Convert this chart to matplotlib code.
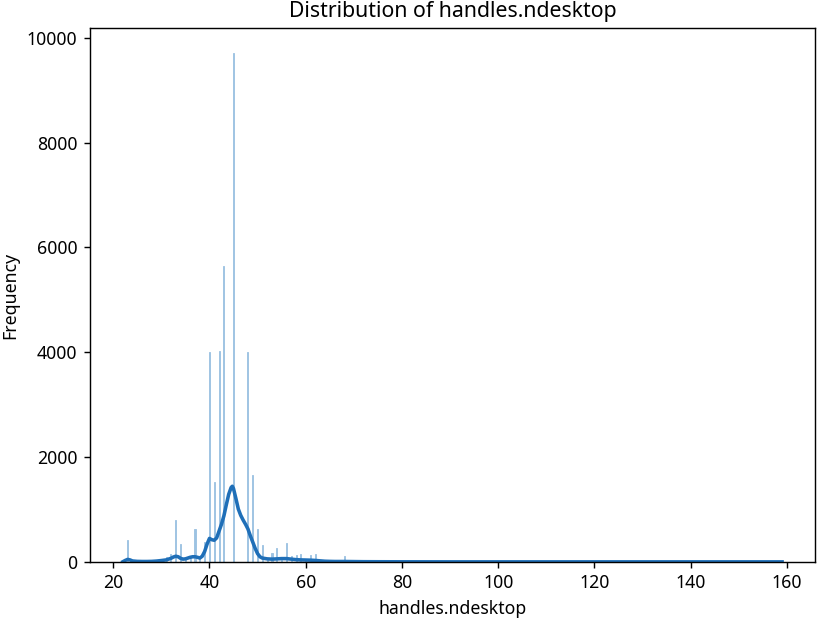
import numpy as np
import matplotlib
matplotlib.use("Agg")
import matplotlib.pyplot as plt

plt.rcParams['font.family'] = ['Noto Sans', 'DejaVu Sans']

# Histogram: distinct handle counts and their frequencies
values = [22, 23, 24, 28, 29, 30, 31, 32, 33, 34, 35, 36, 37, 38, 39, 40, 41, 42, 43, 45,
          48, 49, 50, 51, 52, 53, 54, 55, 56, 57, 58, 59, 60, 61, 62, 63, 64, 65, 66,
          68, 69, 70, 72, 75, 80, 90, 100, 120, 140, 159]
counts = [10, 420, 40, 15, 30, 60, 90, 160, 810, 345, 70, 80, 625, 50, 380, 4000, 1530, 4030, 5640, 9700,
          4000, 1650, 630, 320, 40, 170, 260, 40, 370, 120, 140, 160, 30, 130, 150, 20, 15, 10, 10,
          110, 20, 40, 10, 5, 4, 3, 3, 2, 2, 2]

# KDE curve
kde_x = [22, 22.5, 23, 23.5, 24, 25, 26, 27, 28, 29, 30, 31, 32, 32.5, 33, 33.5, 34, 34.5, 35,
         35.5, 36, 36.5, 37, 37.5, 38, 38.5, 39, 39.5, 40, 40.5, 41, 41.5, 42, 42.5, 43, 43.5,
         44, 44.5, 44.75, 45, 45.5, 46, 46.5, 47, 47.5, 48, 48.5, 49, 49.5, 50, 50.5, 51, 52,
         53, 54, 55, 56, 57, 58, 59, 60, 61, 62, 63, 64, 65, 66, 68, 70, 72, 75, 80, 90, 100,
         120, 140, 159]
kde_y = [5, 30, 50, 40, 20, 12, 10, 10, 12, 18, 28, 40, 70, 95, 110, 100, 70, 55, 60,
         75, 90, 100, 100, 90, 75, 110, 200, 340, 450, 425, 415, 460, 590, 720, 880, 1090,
         1290, 1420, 1445, 1400, 1210, 1010, 890, 800, 720, 630, 500, 380, 260, 160, 100, 75, 60,
         55, 60, 65, 65, 55, 45, 40, 38, 35, 30, 22, 15, 12, 10, 10, 8, 6, 5, 4, 3, 3,
         3, 3, 3]

title = "Distribution of handles.ndesktop"
xlabel = "handles.ndesktop"
ylabel = "Frequency"

dpi = 127.66
fig = plt.figure(figsize=(817 / dpi, 618 / dpi), dpi=dpi)
ax = fig.add_axes([0.110, 0.0906, 0.8876, 0.8641])

ax.bar(values, counts, width=0.22, color="#9cc2e2",
       edgecolor="#9cc2e2", linewidth=0.5)
ax.plot(kde_x, kde_y, color="#1f6fb8", linewidth=2.0)

ax.set_xlim(15.15, 165.85)
ax.set_ylim(0, 10185)
ax.set_xticks([20, 40, 60, 80, 100, 120, 140, 160])
ax.set_yticks([0, 2000, 4000, 6000, 8000, 10000])
ax.set_title(title, fontsize=12)
ax.set_xlabel(xlabel, fontsize=10)
ax.set_ylabel(ylabel, fontsize=10)

fig.savefig("out.png", dpi=dpi)
